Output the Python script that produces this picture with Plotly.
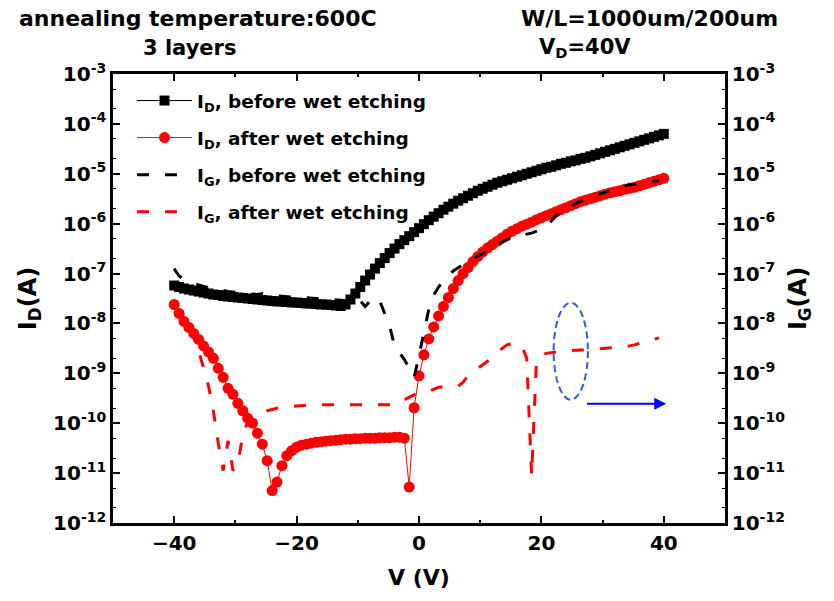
import numpy as np
import plotly.graph_objects as go

# Gate-voltage sweep (V), 101 points from -40 V to 40 V
V = [round(-40 + 0.8 * i, 1) for i in range(101)]

# log10 of current (A)
id_before_log = [
    -7.24, -7.27, -7.30, -7.32, -7.34, -7.36, -7.38, -7.40, -7.42, -7.43,
    -7.45, -7.46, -7.47, -7.48, -7.49, -7.50, -7.51, -7.52, -7.53, -7.54,
    -7.55, -7.56, -7.56, -7.57, -7.58, -7.58, -7.59, -7.60, -7.60, -7.61,
    -7.62, -7.62, -7.63, -7.64, -7.65, -7.62, -7.52, -7.40, -7.27, -7.14,
    -7.02, -6.90, -6.79, -6.69, -6.59, -6.50, -6.41, -6.33, -6.25, -6.17,
    -6.09, -6.01, -5.93, -5.86, -5.79, -5.72, -5.66, -5.60, -5.54, -5.49,
    -5.44, -5.39, -5.34, -5.30, -5.26, -5.22, -5.18, -5.15, -5.12, -5.09,
    -5.06, -5.03, -5.00, -4.97, -4.94, -4.91, -4.88, -4.86, -4.83, -4.80,
    -4.78, -4.75, -4.73, -4.70, -4.68, -4.65, -4.62, -4.59, -4.56, -4.53,
    -4.50, -4.47, -4.44, -4.41, -4.38, -4.35, -4.32, -4.29, -4.26, -4.23,
    -4.20]

id_after_log = [
    -7.62, -7.80, -7.96, -8.08, -8.20, -8.32, -8.45, -8.57, -8.70, -8.90,
    -9.08, -9.30, -9.42, -9.60, -9.75, -9.90, -10.00, -10.20, -10.42, -10.75,
    -11.35, -11.18, -10.85, -10.65, -10.55, -10.48, -10.44, -10.42, -10.40, -10.38,
    -10.37, -10.36, -10.35, -10.34, -10.33, -10.32, -10.32, -10.31, -10.31, -10.30,
    -10.30, -10.30, -10.29, -10.29, -10.29, -10.28, -10.28, -10.30, -11.28, -9.69,
    -9.05, -8.63, -8.31, -8.07, -7.85, -7.66, -7.48, -7.30, -7.14, -7.00,
    -6.88, -6.76, -6.66, -6.57, -6.49, -6.42, -6.35, -6.28, -6.21, -6.15,
    -6.10, -6.05, -6.01, -5.97, -5.92, -5.88, -5.84, -5.80, -5.76, -5.72,
    -5.68, -5.64, -5.60, -5.56, -5.53, -5.50, -5.47, -5.44, -5.41, -5.38,
    -5.36, -5.34, -5.31, -5.29, -5.27, -5.24, -5.21, -5.18, -5.15, -5.12,
    -5.09]

ig_before_log = [
    -6.90, -7.05, -7.12, -7.16, -7.20, -7.23, -7.26, -7.28, -7.31, -7.33,
    -7.35, -7.36, -7.37, -7.38, -7.39, -7.40, -7.41, -7.42, -7.40, -7.43,
    -7.44, -7.45, -7.46, -7.47, -7.47, -7.48, -7.48, -7.49, -7.49, -7.50,
    -7.50, -7.51, -7.51, -7.52, -7.53, -7.54, -7.55, -7.50, -7.55, -7.66,
    -7.55, -7.47, -7.55, -7.80, -8.05, -8.45, -8.58, -8.72, -8.90, -9.08,
    -8.65, -8.15, -7.72, -7.43, -7.27, -7.15, -7.03, -6.95, -6.88, -6.82,
    -6.76, -6.70, -6.65, -6.60, -6.54, -6.48, -6.42, -6.37, -6.32, -6.28,
    -6.25, -6.23, -6.21, -6.19, -6.15, -6.10, -6.05, -5.95, -5.84, -5.76,
    -5.70, -5.65, -5.60, -5.55, -5.51, -5.47, -5.44, -5.41, -5.37, -5.33,
    -5.30, -5.27, -5.24, -5.22, -5.21, -5.20, -5.18, -5.17, -5.15, -5.14,
    None]

ig_after_log = [
    -7.65, -7.83, -7.98, -8.12, -8.28, -8.55, -8.90, -9.25, -9.75, -10.40,
    -10.95, -10.35, -10.95, -10.80, -10.25, -9.97, -9.88, -9.83, -9.79, -9.75,
    -9.72, -9.70, -9.68, -9.67, -9.66, -9.65, -9.64, -9.64, -9.64, -9.63,
    -9.63, -9.63, -9.63, -9.63, -9.63, -9.63, -9.63, -9.63, -9.63, -9.63,
    -9.63, -9.63, -9.63, -9.63, -9.63, -9.63, -9.58, -9.53, -9.48, -9.43,
    -9.41, -9.39, -9.36, -9.32, -9.28, -9.27, -9.27, -9.27, -9.26, -9.18,
    -9.05, -8.97, -8.90, -8.83, -8.76, -8.69, -8.60, -8.50, -8.43, -8.40,
    -8.42, -8.45, -8.70, -11.05, -8.72, -8.64, -8.60, -8.58, -8.57, -8.56,
    -8.55, -8.55, -8.54, -8.53, -8.53, -8.52, -8.51, -8.50, -8.50, -8.49,
    -8.48, -8.48, -8.47, -8.45, -8.43, -8.40, -8.37, -8.34, -8.31, -8.29,
    None]

names = [
    "I<sub>D</sub>, before wet etching",
    "I<sub>D</sub>, after wet etching",
    "I<sub>G</sub>, before wet etching",
    "I<sub>G</sub>, after wet etching",
]

y_tick_exps = list(range(-12, -2))
x_ticks = [-40, -20, 0, 20, 40]

# annotation marks (ellipse + arrow) in data coordinates
ellipse_v = (22.0, 27.6)
ellipse_i = (2.95e-10, 2.6e-8)
arrow_v = (27.2, 40.4)
arrow_i = 2.45e-10


def to_amp(vals):
    return [None if v is None else 10 ** v for v in vals]


FONT = "DejaVu Sans"
W, H = 834, 601
ML, MR, MT, MB = 113, 109, 74, 78
PW, PH = W - ML - MR, H - MT - MB


def px(xp):
    return (xp - ML) / PW


def py(yp):
    return 1 - (yp - MT) / PH


fig = go.Figure()
fig.add_trace(go.Scatter(
    x=V, y=to_amp(id_before_log), mode="lines+markers", name=names[0],
    line=dict(color="black", width=1),
    marker=dict(symbol="square", size=10, color="black"),
    legendgroup="g1"))
fig.add_trace(go.Scatter(
    x=V, y=to_amp(id_after_log), mode="lines+markers", name=names[1],
    line=dict(color="#ff0000", width=1),
    marker=dict(symbol="circle", size=11, color="#ff0000"),
    legendgroup="g2"))
fig.add_trace(go.Scatter(
    x=V, y=to_amp(ig_before_log), mode="lines", name=names[2], yaxis="y2",
    line=dict(color="black", width=3, dash="12px,16px"),
    legendgroup="g3"))
fig.add_trace(go.Scatter(
    x=V, y=to_amp(ig_after_log), mode="lines", name=names[3], yaxis="y2",
    line=dict(color="#ff0000", width=3, dash="12px,16px"),
    legendgroup="g4"))

tickvals = [10.0 ** e for e in y_tick_exps]
ticktext = ["10<sup>%d</sup>" % e for e in y_tick_exps]
tickfont = dict(family=FONT, size=20, color="black", weight="bold")
minor_y = dict(ticks="inside", ticklen=3.5, tickwidth=1.2, tickcolor="black", showgrid=False)

fig.update_layout(
    width=W, height=H,
    margin=dict(l=ML, r=MR, t=MT, b=MB, pad=0),
    paper_bgcolor="white", plot_bgcolor="white",
    font=dict(family=FONT, color="black"),
    xaxis=dict(
        range=[-50, 50], tickvals=x_ticks, ticks="inside", ticklen=7, tickwidth=2,
        tickcolor="black", showline=True, linecolor="black", linewidth=2.5,
        mirror="ticks", showgrid=False, zeroline=False, tickfont=tickfont,
        minor=dict(dtick=10, tick0=0, ticks="inside", ticklen=3.5, tickwidth=1.5,
                   tickcolor="black", showgrid=False),
        title=dict(text="V (V)", font=dict(family=FONT, size=22, weight="bold"), standoff=16),
    ),
    yaxis=dict(
        type="log", range=[-12, -3], tickvals=tickvals, ticktext=ticktext,
        ticks="inside", ticklen=7, tickwidth=2, tickcolor="black",
        showline=True, linecolor="black", linewidth=2.5, showgrid=False,
        zeroline=False, tickfont=tickfont, minor=minor_y,
        title=dict(text="I<sub>D</sub>(A)", font=dict(family=FONT, size=24, weight="bold"), standoff=10),
    ),
    yaxis2=dict(
        type="log", range=[-12, -3], tickvals=tickvals, ticktext=ticktext,
        overlaying="y", side="right", anchor="x",
        ticks="inside", ticklen=7, tickwidth=2, tickcolor="black",
        showline=True, linecolor="black", linewidth=2.5, showgrid=False,
        zeroline=False, tickfont=tickfont, minor=minor_y,
        title=dict(text="I<sub>G</sub>(A)", font=dict(family=FONT, size=24, weight="bold"), standoff=6),
    ),
    legend=dict(
        x=px(132), y=py(82), xanchor="left", yanchor="top",
        bgcolor="rgba(0,0,0,0)", borderwidth=0, itemwidth=55,
        tracegroupgap=10, traceorder="grouped",
        font=dict(family=FONT, size=18.5, color="black", weight="bold"),
    ),
    showlegend=True,
)

fig.add_shape(type="circle", xref="x", yref="y",
              x0=ellipse_v[0], x1=ellipse_v[1], y0=ellipse_i[0], y1=ellipse_i[1],
              line=dict(color="#2f5bea", width=2, dash="7px,4px"))
fig.add_annotation(xref="x", yref="y", axref="x", ayref="y",
                   x=arrow_v[1], y=np.log10(arrow_i), ax=arrow_v[0], ay=np.log10(arrow_i),
                   text="", showarrow=True, arrowhead=2, arrowsize=1.2, arrowwidth=2,
                   arrowcolor="#0000ff")

row1_font = dict(family=FONT, size=22, color="black", weight="bold")
row2_font = dict(family=FONT, size=21, color="black", weight="bold")
fig.add_annotation(xref="paper", yref="paper", x=px(17), y=py(19), xanchor="left", yanchor="middle",
                   text="annealing temperature:600C", showarrow=False, font=row1_font)
fig.add_annotation(xref="paper", yref="paper", x=px(141), y=py(48), xanchor="left", yanchor="middle",
                   text="3 layers", showarrow=False, font=row2_font)
fig.add_annotation(xref="paper", yref="paper", x=px(780), y=py(19), xanchor="right", yanchor="middle",
                   text="W/L=1000um/200um", showarrow=False, font=row1_font)
fig.add_annotation(xref="paper", yref="paper", x=px(537), y=py(48), xanchor="left", yanchor="middle",
                   text="V<sub>D</sub>=40V", showarrow=False, font=row2_font)

fig.write_html("out.html")
